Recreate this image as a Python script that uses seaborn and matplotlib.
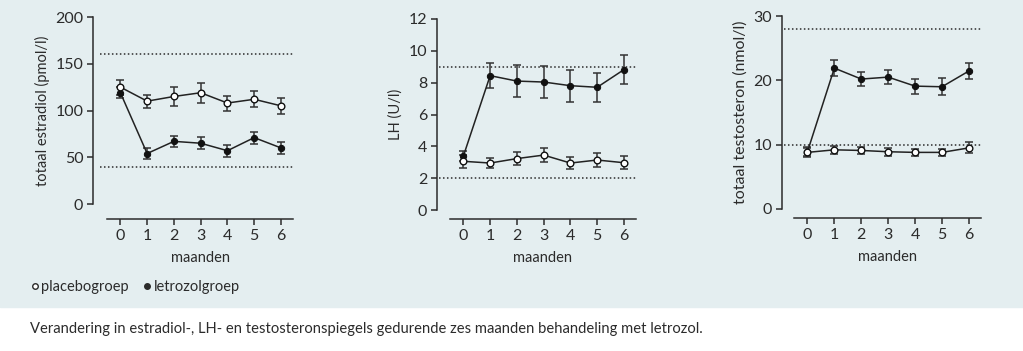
import matplotlib
matplotlib.use("Agg")
import matplotlib.pyplot as plt
from matplotlib.patches import Rectangle
from matplotlib.lines import Line2D
import seaborn as sns
import pandas as pd
import numpy as np

# data
maanden = [0, 1, 2, 3, 4, 5, 6]

estradiol_placebo = [125, 110, 115, 119, 108, 112, 105]
estradiol_placebo_err = [8, 7, 10, 10.5, 8, 8.5, 8.5]
estradiol_letrozol = [119, 54, 67, 65, 57, 71, 60]
estradiol_letrozol_err = [6, 5.5, 6, 6.5, 6.5, 6.5, 6.5]

lh_placebo = [3.06, 2.95, 3.23, 3.45, 2.95, 3.14, 2.97]
lh_placebo_err = [0.4, 0.33, 0.4, 0.42, 0.4, 0.42, 0.4]
lh_letrozol = [3.39, 8.44, 8.1, 8.04, 7.81, 7.71, 8.82]
lh_letrozol_err = [0.3, 0.8, 1.0, 1.0, 1.0, 0.9, 0.9]

testo_placebo = [8.8, 9.2, 9.1, 8.9, 8.8, 8.8, 9.5]
testo_placebo_err = [0.7, 0.6, 0.6, 0.6, 0.6, 0.6, 0.85]
testo_letrozol = [8.9, 21.9, 20.2, 20.5, 19.1, 19.0, 21.45]
testo_letrozol_err = [0.7, 1.2, 1.1, 1.1, 1.15, 1.3, 1.3]

ylabels = ["totaal estradiol (pmol/l)", "LH (U/l)", "totaal testosteron (nmol/l)"]
yticks = [[0, 50, 100, 150, 200], [0, 2, 4, 6, 8, 10, 12], [0, 10, 20, 30]]
refs = [[160, 40], [9, 2], [28, 10]]

legend_labels = ["placebogroep", "letrozolgroep"]
caption = ("Verandering in estradiol-, LH- en testosteronspiegels gedurende "
           "zes maanden behandeling met letrozol.")

BG = "#E4EEF0"
INK = "#2b2b2b"

sns.set_theme(style="ticks")
plt.rcParams["font.family"] = ["Lato", "DejaVu Sans"]
plt.rcParams["text.color"] = INK
plt.rcParams["axes.labelcolor"] = INK
plt.rcParams["xtick.color"] = INK
plt.rcParams["ytick.color"] = INK

fig = plt.figure(figsize=(10.23, 3.51), dpi=100)
fig.patch.set_facecolor("white")
fig.add_artist(Rectangle((0, 1 - 307 / 351), 1, 307 / 351,
                         transform=fig.transFigure, color=BG, zorder=-10))

W, H = 1023, 351
# (left px, right px, top px, bottom px, left offset px, bottom offset px, dotted start, ylabel size)
boxes = [(107, 293, 17, 204, 14, 15, -0.76, 10.5),
         (450, 636, 19, 210, 13, 9, -0.9, 10.5),
         (794, 981, 16, 209, 12, 9, -0.87, 11.5)]

panels = [(estradiol_placebo, estradiol_placebo_err, estradiol_letrozol, estradiol_letrozol_err),
          (lh_placebo, lh_placebo_err, lh_letrozol, lh_letrozol_err),
          (testo_placebo, testo_placebo_err, testo_letrozol, testo_letrozol_err)]

for i, (box, data) in enumerate(zip(boxes, panels)):
    l, r, t, b, lo, bo, x0, lsz = box
    ax = fig.add_axes([l / W, 1 - b / H, (r - l) / W, (b - t) / H])
    ax.set_facecolor("none")
    pl, ple, le, lee = data
    df = pd.DataFrame({"maand": maanden * 2,
                       "waarde": pl + le,
                       "groep": ["placebo"] * 7 + ["letrozol"] * 7})

    ax.hlines(refs[i], x0, 6.45, color=INK, lw=1.1, ls=(0, (1, 1.6)),
              zorder=1, clip_on=False)

    ax.errorbar(maanden, le, yerr=lee, fmt="none", ecolor="#333333",
                elinewidth=1.1, capsize=3, capthick=1.1, zorder=2)
    ax.errorbar(maanden, pl, yerr=ple, fmt="none", ecolor="#333333",
                elinewidth=1.1, capsize=3, capthick=1.1, zorder=2)
    sns.lineplot(data=df[df.groep == "letrozol"], x="maand", y="waarde", ax=ax,
                 color="#222222", lw=1.1, marker="o", markersize=4.5,
                 markerfacecolor="#111111", markeredgecolor="#111111",
                 zorder=3, legend=False)
    sns.lineplot(data=df[df.groep == "placebo"], x="maand", y="waarde", ax=ax,
                 color="#222222", lw=1.1, marker="o", markersize=4.8,
                 markerfacecolor="white", markeredgecolor="#111111",
                 markeredgewidth=1.0, zorder=4, legend=False)

    ax.set_xlim(-0.5, 6.45)
    ax.set_ylim(yticks[i][0], yticks[i][-1])
    ax.set_xticks(maanden)
    ax.set_yticks(yticks[i])
    ax.set_xlabel("maanden", fontsize=10.5, labelpad=6)
    ax.set_ylabel(ylabels[i], fontsize=lsz, labelpad=4)
    ax.tick_params(labelsize=11.5, width=1.1, length=4, pad=3)
    sns.despine(ax=ax)
    ax.spines["left"].set_position(("outward", lo * 72 / 100))
    ax.spines["bottom"].set_position(("outward", bo * 72 / 100))
    for s in ("left", "bottom"):
        ax.spines[s].set_linewidth(1.1)
        ax.spines[s].set_color(INK)

handles = [Line2D([], [], ls="none", marker="o", markersize=4,
                  markerfacecolor="white", markeredgecolor=INK),
           Line2D([], [], ls="none", marker="o", markersize=4,
                  markerfacecolor=INK, markeredgecolor=INK)]
fig.legend(handles, legend_labels, loc="center left",
           bbox_to_anchor=(18 / W, 1 - 287 / H), ncol=2, frameon=False,
           fontsize=10.5, handlelength=0.5, handletextpad=0.2,
           columnspacing=1.0)

fig.text(30 / W, 1 - 329 / H, caption, fontsize=10.6, va="center", ha="left")

fig.savefig("out.png", dpi=100, facecolor=fig.get_facecolor())
